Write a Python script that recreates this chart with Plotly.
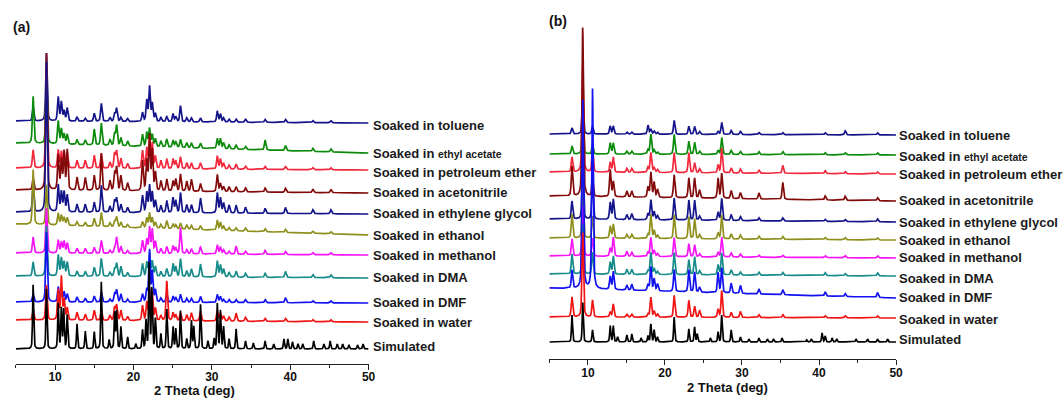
import numpy as np
import plotly.graph_objects as go

# ---------------- data ----------------
SERIES_NAMES = ["toluene", "ethyl acetate", "petroleum ether", "acetonitrile",
                "ethylene glycol", "ethanol", "methanol", "DMA", "DMF", "water", "Simulated"]
LABELS = ["Soaked in toluene",
          "Soaked in <span style='font-size:10.5px'>ethyl acetate</span>",
          "Soaked in petroleum ether", "Soaked in acetonitrile",
          "Soaked in ethylene glycol", "Soaked in ethanol", "Soaked in methanol",
          "Soaked in DMA", "Soaked in DMF", "Soaked in water", "Simulated"]

# ---- panel (a): peak positions (2 theta, deg) shared by the soaked samples
PEAKS_A = [7.2, 8.9, 10.4, 10.8, 11.15, 11.55, 12.8, 13.85, 15.0, 15.9, 17.0, 17.6, 17.85,
           18.4, 19.25, 21.15, 21.7, 22.05, 22.4, 22.8, 23.5, 24.25, 25.05, 25.4, 26.0,
           26.8, 27.4, 28.55, 30.7, 31.1, 31.5, 32.2, 33.1, 34.3, 36.8, 39.4, 42.9, 45.2]
toluene_a = [14, 68, 24, 19, 10, 13, 4, 3, 8, 18, 4, 8, 13, 4, 3, 9, 21, 35, 18, 8, 4, 5, 8, 5, 16,
             4, 4, 4, 11, 8, 4, 3, 3, 3, 3, 3, 2, 2]
ethyl_acetate_a = [47, 70, 23, 15, 10, 10, 5, 5, 16, 22, 6, 12, 20, 8, 5, 12, 14, 18, 12, 8, 6, 8, 7,
                   6, 8, 5, 5, 5, 10, 10, 6, 4, 4, 3, 10, 5, 3, 3]
petroleum_ether_a = [18, 100, 18, 16, 16, 15, 8, 8, 13, 15, 6, 15, 17, 10, 5, 18, 20, 31, 25, 12, 8,
                     10, 10, 8, 12, 6, 6, 6, 13, 10, 6, 4, 5, 3, 3, 3, 2, 2]
acetonitrile_a = [12, 137, 35, 30, 38, 40, 13, 13, 15, 37, 10, 18, 23, 15, 8, 30, 30, 55, 40, 18, 10,
                  12, 10, 12, 17, 10, 12, 8, 17, 8, 5, 5, 5, 4, 4, 4, 3, 3]
ethylene_glycol_a = [29, 150, 27, 20, 20, 17, 8, 8, 10, 27, 6, 12, 14, 8, 5, 17, 20, 27, 20, 12, 7,
                     12, 15, 12, 20, 8, 8, 15, 20, 15, 10, 8, 8, 6, 5, 6, 4, 4]
ethanol_a = [55, 40, 12, 10, 8, 8, 4, 4, 8, 14, 4, 6, 10, 5, 3, 6, 10, 15, 10, 6, 4, 8, 5, 4, 6, 4,
             4, 4, 10, 8, 4, 3, 3, 3, 3, 3, 2, 2]
methanol_a = [16, 45, 13, 11, 12, 10, 5, 5, 6, 13, 3, 6, 16, 7, 3, 13, 14, 26, 24, 12, 5, 7, 8, 6,
              26, 4, 5, 7, 9, 7, 4, 3, 8, 3, 4, 3, 2, 2]
dma_a = [14, 50, 21, 18, 14, 14, 5, 5, 9, 18, 4, 8, 13, 10, 4, 13, 14, 23, 15, 10, 5, 8, 13, 10, 18,
         6, 8, 13, 16, 12, 8, 5, 6, 4, 4, 6, 3, 3]
dmf_a = [8, 70, 15, 10, 10, 8, 5, 4, 6, 10, 3, 9, 12, 8, 3, 8, 12, 52, 30, 12, 4, 8, 6, 5, 8, 4, 4,
         6, 8, 6, 3, 3, 3, 3, 3, 5, 2, 2]
water_a = [10, 35, 30, 43, 20, 12, 8, 6, 10, 10, 5, 13, 15, 10, 4, 15, 18, 30, 27, 12, 5, 40, 8, 6,
           8, 6, 8, 10, 10, 8, 5, 4, 8, 4, 3, 3, 2, 2]
SIM_PEAKS_A = [7.2, 8.9, 10.4, 10.8, 11.1, 11.55, 12.8, 13.85, 15.0, 15.9, 16.9, 17.6, 17.85, 18.4,
               19.25, 20.3, 21.15, 21.6, 22.0, 22.35, 22.8, 23.5, 24.25, 25.05, 25.4, 26.0, 26.8,
               27.4, 27.7, 28.55, 29.5, 30.3, 30.7, 31.1, 31.5, 32.2, 33.1, 34.3, 35.3, 36.8, 37.9,
               39.2, 39.7, 40.3, 41.0, 41.6, 43.0, 44.3, 45.1, 46.0, 46.7, 47.5, 48.6, 49.3]
simulated_a = [64, 60, 45, 40, 39, 34, 25, 18, 17, 67, 9, 36, 38, 22, 12, 5, 19, 28, 85, 60, 30, 15,
               40, 22, 20, 38, 10, 28, 22, 45, 8, 10, 45, 38, 22, 10, 20, 8, 6, 8, 5, 10, 10, 7, 5,
               5, 8, 5, 8, 5, 5, 4, 4, 5]

# ---- panel (b)
PEAKS_B = [7.94, 9.33, 10.6, 12.9, 13.3, 15.06, 15.7, 17.8, 18.17, 18.6, 19.04, 21.2, 23.1, 23.85,
           24.5, 26.9, 27.37, 28.6, 29.8, 32.2, 35.3, 40.8, 43.4, 47.6]
toluene_b = [6, 36, 8, 8, 8, 2, 2, 9, 5, 3, 2, 14, 8, 8, 3, 3, 12, 4, 3, 2, 2, 2, 4, 2]
ethyl_acetate_b = [8, 40, 10, 11, 11, 3, 3, 5, 20, 4, 2, 20, 13, 12, 3, 4, 17, 4, 3, 3, 3, 2, 2, 2]
petroleum_ether_b = [15, 110, 25, 10, 15, 4, 4, 5, 20, 5, 3, 20, 20, 10, 4, 8, 25, 5, 4, 3, 8, 3, 2, 2]
acetonitrile_b = [30, 170, 20, 27, 15, 6, 6, 10, 25, 15, 8, 23, 20, 20, 8, 20, 25, 8, 6, 6, 17, 4, 4, 3]
ethylene_glycol_b = [18, 60, 40, 17, 20, 5, 6, 6, 20, 8, 4, 22, 20, 20, 4, 8, 22, 6, 4, 3, 3, 2, 2, 3]
ethanol_b = [24, 50, 22, 12, 14, 4, 4, 4, 24, 8, 3, 24, 22, 20, 4, 6, 24, 5, 4, 3, 3, 2, 2, 2]
methanol_b = [17, 50, 18, 8, 19, 5, 4, 4, 19, 6, 3, 19, 13, 12, 3, 4, 20, 4, 3, 2, 2, 2, 2, 2]
dma_b = [20, 50, 22, 12, 18, 5, 5, 4, 22, 6, 3, 22, 15, 18, 4, 10, 22, 5, 3, 3, 3, 3, 2, 3]
dmf_b = [18, 190, 200, 13, 18, 5, 6, 6, 24, 12, 7, 22, 22, 20, 5, 20, 25, 10, 8, 5, 5, 4, 3, 5]
water_b = [20, 85, 17, 5, 13, 3, 3, 3, 20, 6, 3, 22, 17, 11, 7, 8, 27, 5, 6, 3, 3, 2, 2, 2]
SIM_PEAKS_B = [7.94, 9.33, 10.6, 12.9, 13.3, 13.85, 15.06, 15.7, 16.9, 17.8, 18.17, 18.6, 19.04, 21.2,
               23.1, 23.85, 24.2, 25.9, 26.9, 27.37, 28.6, 29.8, 30.9, 32.2, 33.3, 34.1, 35.2, 38.4,
               39.0, 40.4, 40.8, 41.7, 42.3, 44.8, 46.3, 47.6, 48.9]
simulated_b = [27, 40, 12, 16, 16, 5, 7, 8, 4, 6, 18, 12, 5, 25, 13, 15, 8, 4, 10, 27, 12, 5, 3, 4,
               3, 3, 4, 2, 3, 9, 6, 4, 3, 3, 3, 3, 3]

TICK_VALUES = [10, 20, 30, 40, 50]
MINOR_TICKS = [5, 15, 25, 35, 45]

# ---------------- styles / geometry ----------------
W, H = 1063, 399
COLORS = ["#14148a", "#0b8a0b", "#f2283c", "#820a0a", "#14148a", "#8f8f1e",
          "#f514f5", "#178a8a", "#1212f0", "#f01414", "#000000"]
FONT = "Liberation Sans, Arial, sans-serif"

A_X0, A_X1, A_AXIS = 16, 371, 364
B_X0, B_X1, B_AXIS = 553, 902, 359
# vertical placement of each trace's baseline (pixel rows) at 5 deg and 50 deg
A_BASE_L = [121, 143, 168, 190, 212, 224, 253, 276, 302, 320, 349]
A_BASE_R = [123, 153, 170, 193, 214, 235, 255, 278, 303, 322, 349]
A_LABEL_Y = [125, 153, 172, 192, 213, 235, 255, 277, 302, 322, 346]
B_BASE_L = [134, 154, 172, 196, 219, 238, 256, 274, 288, 317, 342]
B_BASE_R = [135, 155, 174, 201, 222, 240, 258, 276, 298, 318, 342]
B_LABEL_Y = [135, 156, 174, 200, 222, 240, 257, 278, 297, 319, 339]

X = np.arange(5.0, 50.0001, 0.02)


def profile(pos, hts, w, eta=0.45):
    y = np.zeros_like(X)
    for p, h in zip(pos, hts):
        d = (X - p) / w
        y += h * (eta / (1 + d * d) + (1 - eta) * np.exp(-np.log(2) * d * d))
    return y


A_DATA = [(PEAKS_A, toluene_a), (PEAKS_A, ethyl_acetate_a), (PEAKS_A, petroleum_ether_a),
          (PEAKS_A, acetonitrile_a), (PEAKS_A, ethylene_glycol_a), (PEAKS_A, ethanol_a),
          (PEAKS_A, methanol_a), (PEAKS_A, dma_a), (PEAKS_A, dmf_a), (PEAKS_A, water_a),
          (SIM_PEAKS_A, simulated_a)]
B_DATA = [(PEAKS_B, toluene_b), (PEAKS_B, ethyl_acetate_b), (PEAKS_B, petroleum_ether_b),
          (PEAKS_B, acetonitrile_b), (PEAKS_B, ethylene_glycol_b), (PEAKS_B, ethanol_b),
          (PEAKS_B, methanol_b), (PEAKS_B, dma_b), (PEAKS_B, dmf_b), (PEAKS_B, water_b),
          (SIM_PEAKS_B, simulated_b)]

fig = go.Figure()
annotations = []

for panel, data, axis_y, bl, br, ly, xa, ya, lx in [
        ("a", A_DATA, A_AXIS, A_BASE_L, A_BASE_R, A_LABEL_Y, "x", "y", A_X1 + 2),
        ("b", B_DATA, B_AXIS, B_BASE_L, B_BASE_R, B_LABEL_Y, "x2", "y2", B_X1 + 1)]:
    for i, (pos, hts) in enumerate(data):
        w = 0.08 if i == len(data) - 1 else 0.11
        base = axis_y - (bl[i] + (br[i] - bl[i]) * (X - 5.0) / 45.0)
        y = base + profile(pos, hts, w)
        fig.add_trace(go.Scatter(x=X, y=y, mode="lines", xaxis=xa, yaxis=ya,
                                 line=dict(color=COLORS[i], width=1.7),
                                 name=SERIES_NAMES[i], showlegend=False, hoverinfo="skip"))
        annotations.append(dict(text=LABELS[i], x=lx / W, xref="paper", xanchor="left",
                                y=(H - ly[i]) / H, yref="paper", yanchor="middle",
                                showarrow=False, font=dict(family=FONT, size=13, color="#1a1a1a",
                                                           weight="bold")))

# panel tags and axis titles
annotations += [
    dict(text="(a)", x=11 / W, y=(H - 27) / H, xref="paper", yref="paper", xanchor="left",
         yanchor="middle", showarrow=False, font=dict(family=FONT, size=14, color="#111", weight="bold")),
    dict(text="(b)", x=551 / W, y=(H - 21) / H, xref="paper", yref="paper", xanchor="left",
         yanchor="middle", showarrow=False, font=dict(family=FONT, size=14, color="#111", weight="bold")),
    dict(text="2 Theta (deg)", x=196 / W, y=(H - 390) / H, xref="paper", yref="paper",
         xanchor="center", yanchor="middle", showarrow=False,
         font=dict(family=FONT, size=13, color="#111", weight="bold")),
    dict(text="2 Theta (deg)", x=732 / W, y=(H - 387) / H, xref="paper", yref="paper",
         xanchor="center", yanchor="middle", showarrow=False,
         font=dict(family=FONT, size=13, color="#111", weight="bold")),
]


def xaxis(x0, x1, anchor, standoff):
    return dict(domain=[x0 / W, x1 / W], range=[5, 50], anchor=anchor, showline=True,
                linecolor="#222", linewidth=1.3, ticks="outside", ticklen=5, tickwidth=1.3,
                tickcolor="#222", tickvals=TICK_VALUES, showgrid=False, zeroline=False,
                ticklabelstandoff=standoff,
                tickfont=dict(family=FONT, size=12, color="#111", weight="bold"),
                minor=dict(tickvals=MINOR_TICKS, ticks="outside", ticklen=3, tickwidth=1.2,
                           tickcolor="#222", showgrid=False),
                fixedrange=True)


def yaxis(axis_px, anchor):
    return dict(domain=[(H - axis_px) / H, 1], range=[0, axis_px], anchor=anchor,
                visible=False, fixedrange=True)


fig.update_layout(
    width=W, height=H, margin=dict(l=0, r=0, t=0, b=0),
    paper_bgcolor="white", plot_bgcolor="white", showlegend=False,
    xaxis=xaxis(A_X0, A_X1, "y", -4), yaxis=yaxis(A_AXIS, "x"),
    xaxis2=xaxis(B_X0, B_X1, "y2", -3), yaxis2=yaxis(B_AXIS, "x2"),
    annotations=annotations,
)

fig.write_html("out.html")
